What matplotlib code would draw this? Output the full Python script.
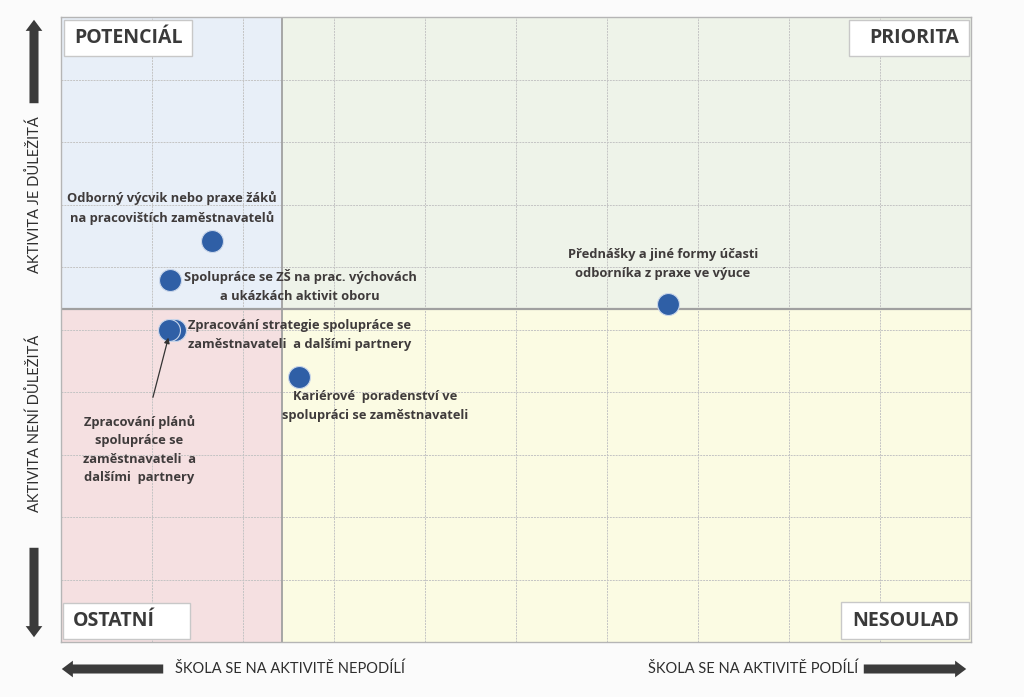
import matplotlib.pyplot as plt
from matplotlib.patches import Rectangle, FancyArrowPatch

# activities: x = school takes part, y = importance (0-100 scale)
labels = [
    "Odborný výcvik nebo praxe žáků\nna pracovištích zaměstnavatelů",
    "Spolupráce se ZŠ na prac. výchovách\na ukázkách aktivit oboru",
    "Zpracování strategie spolupráce se\nzaměstnavateli  a dalšími partnery",
    "Zpracování plánů\nspolupráce se\nzaměstnavateli  a\ndalšími  partnery",
    "Kariérové  poradenství ve\nspolupráci se zaměstnavateli",
    "Přednášky a jiné formy účasti\nodborníka z praxe ve výuce",
]
x_vals = [16.6, 12.0, 12.5, 11.9, 26.2, 66.7]
y_vals = [64.2, 57.9, 49.9, 49.9, 42.4, 54.1]

x_split = 24.3
y_split = 53.3

quadrants = ["POTENCIÁL", "PRIORITA", "OSTATNÍ", "NESOULAD"]

FONT = "Open Sans"
txt_col = "#3f3b3b"

fig = plt.figure(figsize=(10.24, 6.97), dpi=100, facecolor="#fbfbfb")
ax = fig.add_axes([61/1024, 55/697, 910/1024, 625/697])
ax.set_xlim(0, 100)
ax.set_ylim(0, 100)

# quadrant backgrounds
ax.add_patch(Rectangle((0, y_split), x_split, 100 - y_split, color="#e8eff8", zorder=0))
ax.add_patch(Rectangle((x_split, y_split), 100 - x_split, 100 - y_split, color="#eef3e9", zorder=0))
ax.add_patch(Rectangle((0, 0), x_split, y_split, color="#f5e0e1", zorder=0))
ax.add_patch(Rectangle((x_split, 0), 100 - x_split, y_split, color="#fbfbe3", zorder=0))

ax.set_xticks(range(0, 101, 10))
ax.set_yticks(range(0, 101, 10))
ax.grid(True, color="#c4c4c4", linewidth=0.7, linestyle=(0, (2, 1)), zorder=1)
ax.tick_params(length=0, labelbottom=False, labelleft=False)
for s in ax.spines.values():
    s.set_color("#b5b5b5")
    s.set_linewidth(1.0)

ax.axvline(x_split, color="#a0a0a0", linewidth=1.3, zorder=2)
ax.axhline(y_split, color="#a0a0a0", linewidth=1.6, zorder=2)

# points (plans dot drawn last so it sits on top of strategy)
order = [0, 1, 2, 4, 5, 3]
for i in order:
    ax.scatter(x_vals[i], y_vals[i], s=250, color="#2f5fa6", edgecolor="#c9d6ea",
               linewidth=0.8, zorder=5)

# label offsets in pixels from the dot
offsets = [(-40, 33), (130, -6), (125, -5), (-29, -112), (76, -29), (-5, 40)]
for i, lab in enumerate(labels):
    if i == 3:
        ax.annotate(lab, (x_vals[i] - 0.1, y_vals[i] - 1.2), xytext=offsets[i],
                    textcoords="offset pixels", ha="center", va="center",
                    fontsize=9.3, fontweight="bold", color=txt_col, family=FONT,
                    linespacing=1.55, zorder=6,
                    arrowprops=dict(arrowstyle="-|>", color="#333333", lw=0.9,
                                    shrinkA=11, shrinkB=0, mutation_scale=8))
    else:
        ax.annotate(lab, (x_vals[i], y_vals[i]), xytext=offsets[i],
                    textcoords="offset pixels", ha="center", va="center",
                    fontsize=9.3, fontweight="bold", color=txt_col, family=FONT,
                    linespacing=1.55, zorder=6)

# quadrant name boxes (axes fractions)
boxes = [
    ((3/910, 586/625), (128/910, 36/625), "left"),
    ((788/910, 586/625), (120/910, 36/625), "right"),
    ((2/910, 3/625), (127/910, 36/625), "left"),
    ((780/910, 3/625), (128/910, 37/625), "right"),
]
for name, (xy, wh, al) in zip(quadrants, boxes):
    ax.add_patch(Rectangle(xy, wh[0], wh[1], transform=ax.transAxes, facecolor="white",
                           edgecolor="#c8c8c8", linewidth=1.0, zorder=7))
    tx = xy[0] + 10/910 if al == "left" else xy[0] + wh[0] - 10/910
    ax.text(tx, xy[1] + wh[1] / 2, name, transform=ax.transAxes, ha=al, va="center",
            fontsize=14, fontweight="bold", color="#3a3a3a", family=FONT, zorder=8)

# outer arrows and axis captions (figure pixels -> fraction)
W, H = 1024, 697
def fp(x, y):
    return (x / W, 1 - y / H)

arr_style = "simple,head_width=12,head_length=8,tail_width=6.5"
for a, b in [((34, 106), (34, 17)), ((34, 545), (34, 640)),
             ((166, 669), (59, 669)), ((861, 669), (969, 669))]:
    fig.add_artist(FancyArrowPatch(fp(*a), fp(*b), transform=fig.transFigure,
                                   arrowstyle=arr_style, color="#3b3b3b", lw=0))

cap = dict(fontsize=10.5, color="#2e2e2e", family="Lato")
fig.text(*fp(35, 195), "AKTIVITA JE DŮLEŽITÁ", rotation=90, ha="center", va="center", **cap)
fig.text(*fp(35, 423), "AKTIVITA NENÍ DŮLEŽITÁ", rotation=90, ha="center", va="center", **cap)
fig.text(*fp(175, 669), "ŠKOLA SE NA AKTIVITĚ NEPODÍLÍ", ha="left", va="center", **cap)
fig.text(*fp(858, 669), "ŠKOLA SE NA AKTIVITĚ PODÍLÍ", ha="right", va="center", **cap)

fig.savefig("out.png", dpi=100, facecolor=fig.get_facecolor())
